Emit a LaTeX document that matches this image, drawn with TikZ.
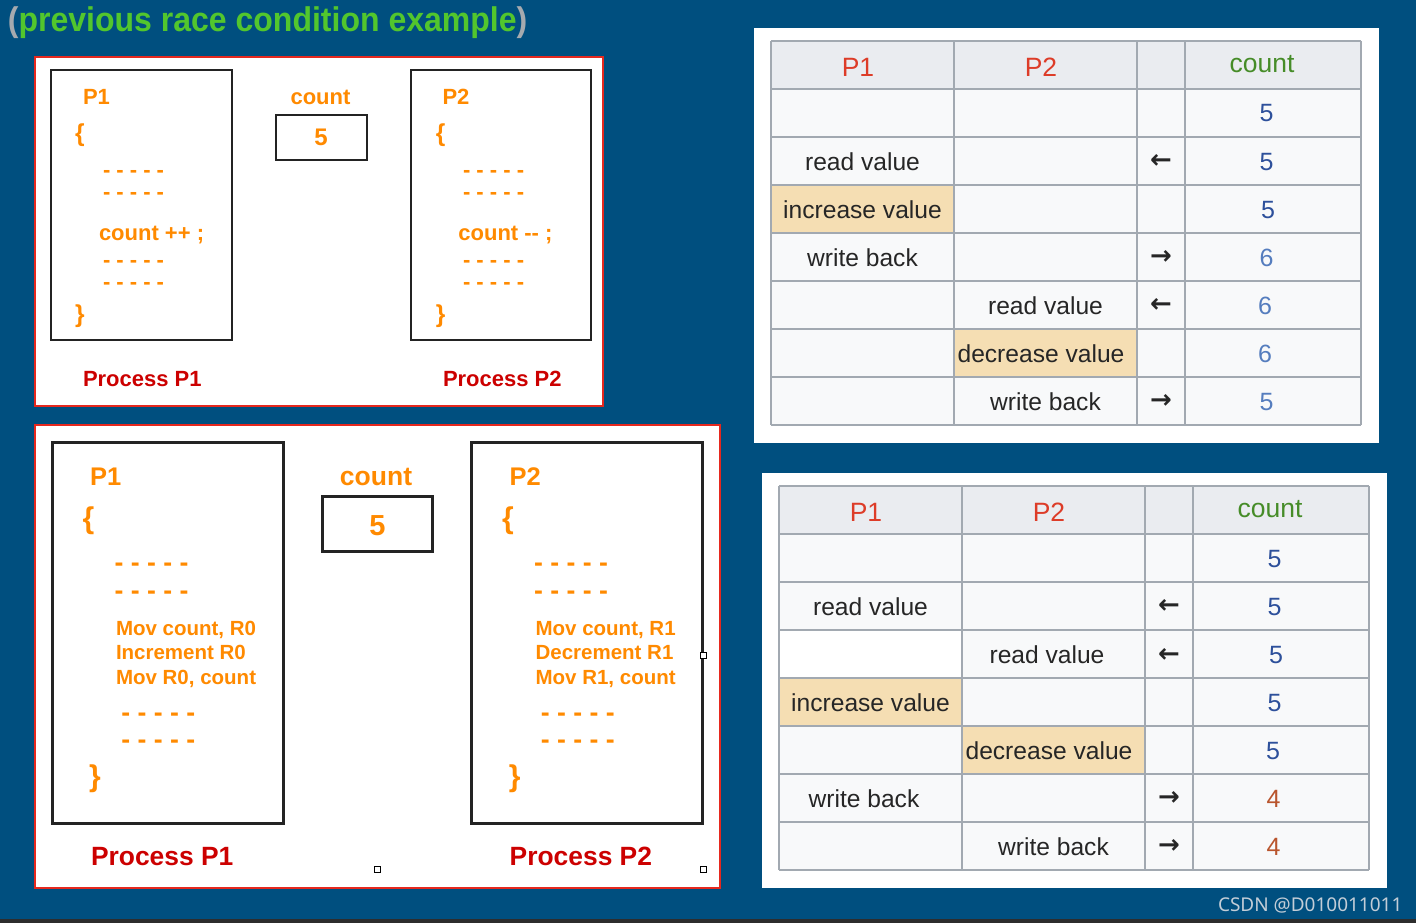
\documentclass[tikz,border=0pt]{standalone}
\usepackage{fontspec}
\usepackage{graphicx}
\setmainfont{Liberation Sans}
\newfontfamily\arrowfont{DejaVu Sans Bold}
\newfontfamily\wmfont{Noto Sans}
\definecolor{bgblue}{RGB}{0,79,127}
\definecolor{titlegreen}{RGB}{82,198,45}
\definecolor{parengray}{RGB}{165,170,175}
\definecolor{codeorange}{RGB}{255,138,0}
\definecolor{procred}{RGB}{204,0,0}
\definecolor{panelred}{RGB}{230,40,30}
\definecolor{boxblack}{RGB}{35,35,35}
\definecolor{headbg}{RGB}{234,236,240}
\definecolor{cellbg}{RGB}{248,249,250}
\definecolor{gridgray}{RGB}{162,169,177}
\definecolor{hlwheat}{RGB}{245,222,179}
\definecolor{headred}{RGB}{221,60,40}
\definecolor{headgreen}{RGB}{70,140,40}
\definecolor{numblue}{RGB}{45,80,155}
\definecolor{numlight}{RGB}{85,125,190}
\definecolor{numbrown}{RGB}{185,85,45}
\definecolor{wmgray}{RGB}{195,205,215}
\definecolor{stripdark}{RGB}{45,45,45}
\newcommand{\fsz}[1]{\fontsize{#1}{#1}\selectfont}
\begin{document}
\begin{tikzpicture}[x=1pt,y=-1pt,
  txt/.style={inner sep=0pt, outer sep=0pt},
  bw/.style={txt, anchor=base west},
  bc/.style={txt, anchor=base},
  panel/.style={fill=white, draw=panelred, line width=1.6pt},
  procbox/.style={draw=boxblack, line width=2.2pt},
  procboxB/.style={draw=boxblack, line width=2.8pt},
  codeA/.style={text=codeorange, font=\fsz{22}\bfseries},
  braceA/.style={text=codeorange, font=\fsz{24.5}\bfseries},
  procA/.style={text=procred, font=\fsz{22}\bfseries},
  headB/.style={text=codeorange, font=\fsz{25.5}\bfseries},
  dashB/.style={text=codeorange, font=\fsz{26.6}\bfseries},
  braceB/.style={text=codeorange, font=\fsz{30}\bfseries},
  movB/.style={text=codeorange, font=\fsz{20.5}\bfseries},
  procB/.style={text=procred, font=\fsz{26.4}\bfseries},
  handle/.style={fill=white, draw=black, line width=0.6pt},
  gridline/.style={draw=gridgray, line width=1.6pt},
  cell/.style={bc, font=\fsz{24.6}, text=black!85},
  hcell/.style={bc, font=\fsz{26.5}},
  arr/.style={txt, anchor=center, font=\arrowfont\fsz{26}, text=black!85},
  num/.style={bc, font=\fsz{25}}
]
\useasboundingbox (0,0) rectangle (1416,923);
\fill[bgblue] (0,0) rectangle (1416,923);
\fill[stripdark] (0,919) rectangle (1416,923);

% title
\node[bw, font=\fsz{32}\bfseries] (title) at (8,32) {\scalebox{1}[1.07]{\textcolor{parengray}{(}\textcolor{titlegreen}{previous race condition example}\textcolor{parengray}{)}}};

% ---------- top-left panel ----------
\draw[panel] (35,57) rectangle (603,406);
\draw[procbox] (51,70) rectangle (232,340);
\draw[procbox] (276,115) rectangle (367,160);
\draw[procbox] (411,70) rectangle (591,340);

\node[bc, codeA] (cntA) at (320.5,105) {count};
\node[bc, text=codeorange, font=\fsz{24}\bfseries] (fiveA) at (321,145.7) {5};

\node[bw, codeA] (pA1) at (83,105) {P1};
\node[bw, braceA] (obA1) at (75,141.6) {\{};
\node[bw, codeA] (dA1) at (103,177.2) {- - - - -};
\node[bw, codeA] (dA2) at (103,199.5) {- - - - -};
\node[bw, codeA] (incA) at (99,240.7) {count ++ ;};
\node[bw, codeA] (dA3) at (103,267.2) {- - - - -};
\node[bw, codeA] (dA4) at (103,289.9) {- - - - -};
\node[bw, braceA] (cbA1) at (75,322) {\}};
\node[bw, procA] (prA1) at (83,386.7) {Process P1};

\node[bw, codeA] (pA2) at (442.5,105) {P2};
\node[bw, braceA] (obA2) at (435.8,141.6) {\{};
\node[bw, codeA] (dA5) at (463,177.2) {- - - - -};
\node[bw, codeA] (dA6) at (463,199.5) {- - - - -};
\node[bw, codeA] (decA) at (458.4,240.7) {count -{}- ;};
\node[bw, codeA] (dA7) at (463,267.2) {- - - - -};
\node[bw, codeA] (dA8) at (463,289.9) {- - - - -};
\node[bw, braceA] (cbA2) at (435.8,322) {\}};
\node[bw, procA] (prA2) at (443,386.7) {Process P2};

% ---------- bottom-left panel ----------
\draw[panel] (35,425) rectangle (720,888);
\draw[procboxB] (52.3,442.3) rectangle (283.5,823.3);
\draw[procboxB] (322.6,496.7) rectangle (432.2,551.7);
\draw[procboxB] (471.4,442.3) rectangle (702.2,823.3);

\node[bc, text=codeorange, font=\fsz{26.5}\bfseries] (cntB) at (376,485) {count};
\node[bc, text=codeorange, font=\fsz{29}\bfseries] (fiveB) at (377.4,535) {5};

\node[bw, headB] (pB1) at (90,485) {P1};
\node[bw, braceB] (obB1) at (82.6,528.7) {\{};
\node[bw, dashB] (dB1) at (114.6,571.6) {- - - - -};
\node[bw, dashB] (dB2) at (114.6,599) {- - - - -};
\node[bw, movB] (mB1) at (116,635) {Mov count, R0};
\node[bw, movB] (mB2) at (116,659.3) {Increment R0};
\node[bw, movB] (mB3) at (116,684) {Mov R0, count};
\node[bw, dashB] (dB3) at (121.3,721.3) {- - - - -};
\node[bw, dashB] (dB4) at (121.3,748.3) {- - - - -};
\node[bw, braceB] (cbB1) at (89.2,786.4) {\}};
\node[bw, procB] (prB1) at (91,865) {Process P1};

\node[bw, headB] (pB2) at (509.7,485) {P2};
\node[bw, braceB] (obB2) at (502.2,528.7) {\{};
\node[bw, dashB] (dB5) at (534.2,571.6) {- - - - -};
\node[bw, dashB] (dB6) at (534.2,599) {- - - - -};
\node[bw, movB] (mB4) at (535.6,635) {Mov count, R1};
\node[bw, movB] (mB5) at (535.6,659.3) {Decrement R1};
\node[bw, movB] (mB6) at (535.6,684) {Mov R1, count};
\node[bw, dashB] (dB7) at (540.9,721.3) {- - - - -};
\node[bw, dashB] (dB8) at (540.9,748.3) {- - - - -};
\node[bw, braceB] (cbB2) at (508.8,786.4) {\}};
\node[bw, procB] (prB2) at (509.7,865) {Process P2};

\draw[handle] (374,866) rectangle (380,872);
\draw[handle] (700,866) rectangle (706,872);
\draw[handle] (700,652) rectangle (706,658);

% ---------- right panels ----------
\fill[white] (754,28) rectangle (1379,443);
\fill[white] (762,473) rectangle (1387,888);

% top table
\begin{scope}[shift={(771,41)}]
  \fill[cellbg] (0,48) rectangle (590,384);
  \fill[headbg] (0,0) rectangle (590,48);
  \fill[hlwheat] (0,144) rectangle (183,192);
  \fill[hlwheat] (183,288) rectangle (366,336);
  \foreach \r in {0,48,...,384} {\draw[gridline] (0,\r) -- (590,\r);}
  \foreach \c in {0,183,366,414,590} {\draw[gridline] (\c,0) -- (\c,384);}
  \node[hcell, text=headred] (ta-h1) at (87,35.7) {P1};
  \node[hcell, text=headred] (ta-h2) at (270,35.7) {P2};
  \node[hcell, text=headgreen] (ta-h4) at (491,31.7) {count};
  \node[num, text=numblue] (ta-n1) at (495.5,81) {5};
  \node[cell] (ta-r2c1) at (91.5,129) {read value};
  \node[arr] (ta-r2c3) at (390,120.5) {←};
  \node[num, text=numblue] (ta-n2) at (495.5,129) {5};
  \node[cell] (ta-r3c1) at (91.5,177) {increase value};
  \node[num, text=numblue] (ta-n3) at (497,177) {5};
  \node[cell] (ta-r4c1) at (91.5,225) {write back};
  \node[arr] (ta-r4c3) at (390,216.5) {→};
  \node[num, text=numlight] (ta-n4) at (495.5,225) {6};
  \node[cell] (ta-r5c2) at (274.5,273) {read value};
  \node[arr] (ta-r5c3) at (390,264.5) {←};
  \node[num, text=numlight] (ta-n5) at (494,273) {6};
  \node[cell] (ta-r6c2) at (270,321) {decrease value};
  \node[num, text=numlight] (ta-n6) at (494,321) {6};
  \node[cell] (ta-r7c2) at (274.5,369) {write back};
  \node[arr] (ta-r7c3) at (390,360.5) {→};
  \node[num, text=numlight] (ta-n7) at (495.5,369) {5};
\end{scope}

% bottom table
\begin{scope}[shift={(779,486)}]
  \fill[cellbg] (0,48) rectangle (590,384);
  \fill[headbg] (0,0) rectangle (590,48);
  \fill[white] (0,144) rectangle (183,192);
  \fill[hlwheat] (0,192) rectangle (183,240);
  \fill[hlwheat] (183,240) rectangle (366,288);
  \foreach \r in {0,48,...,384} {\draw[gridline] (0,\r) -- (590,\r);}
  \foreach \c in {0,183,366,414,590} {\draw[gridline] (\c,0) -- (\c,384);}
  \node[hcell, text=headred] (tb-h1) at (87,35.7) {P1};
  \node[hcell, text=headred] (tb-h2) at (270,35.7) {P2};
  \node[hcell, text=headgreen] (tb-h4) at (491,31.7) {count};
  \node[num, text=numblue] (tb-n1) at (495.5,81) {5};
  \node[cell] (tb-r2c1) at (91.5,129) {read value};
  \node[arr] (tb-r2c3) at (390,120.5) {←};
  \node[num, text=numblue] (tb-n2) at (495.5,129) {5};
  \node[cell] (tb-r3c2) at (268,177) {read value};
  \node[arr] (tb-r3c3) at (390,169.5) {←};
  \node[num, text=numblue] (tb-n3) at (497,177) {5};
  \node[cell] (tb-r4c1) at (91.5,225) {increase value};
  \node[num, text=numblue] (tb-n4) at (495.5,225) {5};
  \node[cell] (tb-r5c2) at (270,273) {decrease value};
  \node[num, text=numblue] (tb-n5) at (494,273) {5};
  \node[cell] (tb-r6c1) at (85,321) {write back};
  \node[arr] (tb-r6c3) at (390,312.5) {→};
  \node[num, text=numbrown] (tb-n6) at (494.5,321) {4};
  \node[cell] (tb-r7c2) at (274.5,369) {write back};
  \node[arr] (tb-r7c3) at (390,360.5) {→};
  \node[num, text=numbrown] (tb-n7) at (494.5,369) {4};
\end{scope}

% watermark
\node[bw, font=\wmfont\fsz{19}, text=wmgray] (wm) at (1218,911) {CSDN @D010011011};
\end{tikzpicture}
\end{document}
